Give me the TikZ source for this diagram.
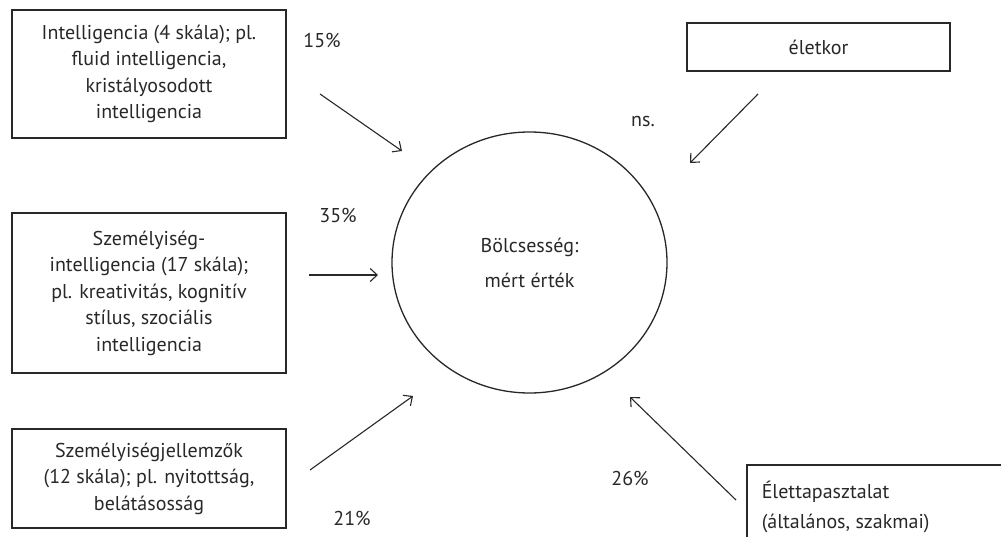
\documentclass[tikz,border=0pt]{standalone}
\usepackage{fontspec}
\setmainfont{PT Sans}
\usetikzlibrary{arrows.meta,shapes.geometric}
\definecolor{ink}{RGB}{40,40,40}
\tikzset{
  box/.style={draw=ink, line width=1.5pt, inner sep=0pt, text=ink, align=center,
    font=\fontsize{20}{26.5}\selectfont},
  lab/.style={text=ink, font=\fontsize{20}{22}\selectfont, inner sep=0pt},
  arr/.style={draw=ink, line width=1.1pt, -{Straight Barb[length=7pt,width=13pt,line width=1.1pt]}},
}
\begin{document}
\begin{tikzpicture}[x=1pt,y=-1pt]
\useasboundingbox (0,0) rectangle (1001,537);
\clip (0,0) rectangle (1001,537);
% boxes
\node[box, minimum width=274pt, minimum height=128pt] (intel) at (149,74)
  {Intelligencia (4 skála); pl.\\fluid intelligencia,\\kristályosodott\\intelligencia};
\node[box, minimum width=263pt, minimum height=48pt] (kor) at (818.5,47)
  {életkor};
\node[box, minimum width=274pt, minimum height=160pt] (szem) at (149,293)
  {Személyiség-\\intelligencia (17 skála);\\pl. kreativitás, kognitív\\stílus, szociális\\intelligencia};
\node[box, minimum width=274pt, minimum height=99pt] (jell) at (149,478.5)
  {Személyiségjellemzők\\(12 skála); pl. nyitottság,\\belátásosság};
\draw[draw=ink, line width=1.5pt] (1010,465) -- (747,465) -- (747,560);
\node[box, draw=none, align=left, anchor=west, font=\fontsize{20}{30}\selectfont] (elet) at (761,507)
  {Élettapasztalat\\(általános, szakmai)};
% central ellipse
\node[draw=ink, line width=1.3pt, ellipse, minimum width=275pt, minimum height=261pt,
  inner sep=0pt, text=ink, align=center, font=\fontsize{20}{35}\selectfont] (bol) at (529.5,262.5)
  {Bölcsesség:\\mért érték};
% labels
\node[lab] (p15) at (322,40) {15\%};
\node[lab] (pns) at (643,122) {ns.};
\node[lab] (p35) at (338,215) {35\%};
\node[lab] (p21) at (352,518) {21\%};
\node[lab] (p26) at (630,478) {26\%};
% arrow endpoints
\coordinate (a1s) at (320,94);  \coordinate (a1e) at (402,151);
\coordinate (a2s) at (758,94);  \coordinate (a2e) at (690,163);
\coordinate (a3s) at (309,275); \coordinate (a3e) at (378,275);
\coordinate (a4s) at (310,470); \coordinate (a4e) at (413,396);
\coordinate (a5s) at (736,500); \coordinate (a5e) at (630,397);
\draw[arr] (a1s) -- (a1e);
\draw[arr] (a2s) -- (a2e);
\draw[arr] (a3s) -- (a3e);
\draw[arr] (a4s) -- (a4e);
\draw[arr] (a5s) -- (a5e);
\end{tikzpicture}
\end{document}
